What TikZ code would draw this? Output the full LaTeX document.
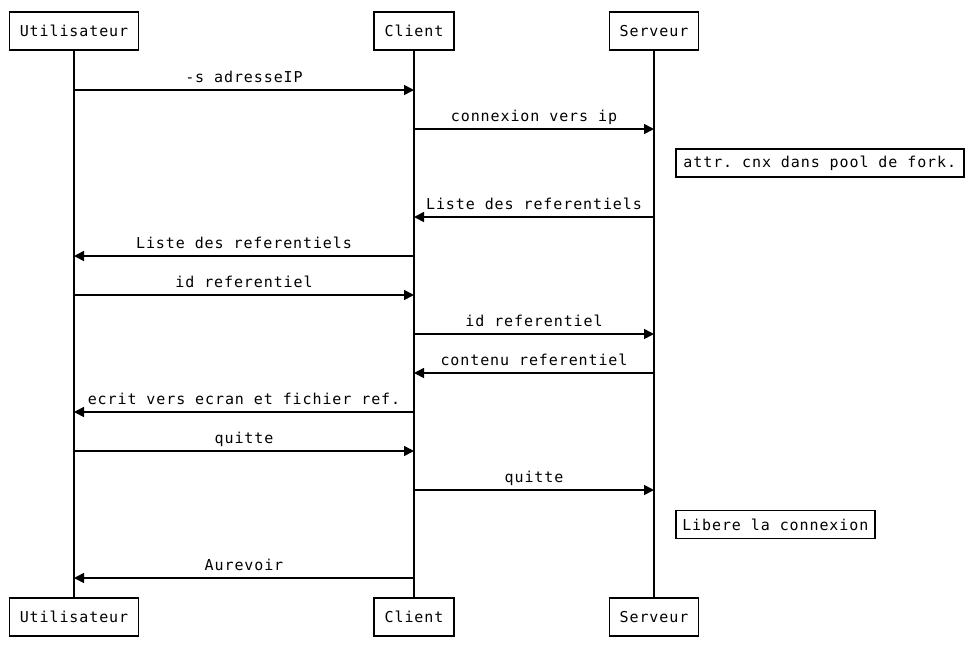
\documentclass[tikz,border=0pt]{standalone}
\usepackage{fontspec}
\newfontfamily\dmono[LetterSpace=6]{DejaVu Sans Mono}
\frenchspacing
\usetikzlibrary{arrows.meta}
\tikzset{
  txt/.style={font=\dmono\fontsize{15}{18}\selectfont},
  actor/.style={draw, line width=1.6pt, fill=white, minimum height=38pt, inner sep=0pt, txt, text depth=0pt, yshift=0pt},
  notebox/.style={draw, line width=1.6pt, fill=white, inner sep=0pt, minimum height=28pt, anchor=west, txt},
  lifeline/.style={line width=1.6pt},
  msg/.style={line width=1.6pt, -{Triangle[length=10pt,width=10pt]}},
  lbl/.style={anchor=base, inner sep=0pt, txt}
}
\begin{document}
\begin{tikzpicture}[x=1pt,y=-1pt]
\useasboundingbox (0,0) rectangle (975,649);
% actors
\node[actor, minimum width=129pt] (ut) at (74,31) {Utilisateur};
\node[actor, minimum width=80pt] (ct) at (414,31) {Client};
\node[actor, minimum width=89pt] (st) at (654,31) {Serveur};
\node[actor, minimum width=129pt] (ub) at (74,617) {Utilisateur};
\node[actor, minimum width=80pt] (cb) at (414,617) {Client};
\node[actor, minimum width=89pt] (sb) at (654,617) {Serveur};
\draw[lifeline] (ut.south) -- (ub.north);
\draw[lifeline] (ct.south) -- (cb.north);
\draw[lifeline] (st.south) -- (sb.north);
% message coordinates
\foreach \n/\y in {1/90,2/129,3/217,4/256,5/295,6/334,7/373,8/412,9/451,10/490,11/578}{
  \coordinate (u\n) at (74,\y);
  \coordinate (c\n) at (414,\y);
  \coordinate (s\n) at (654,\y);
}
\draw[msg] (u1) -- (c1) node[lbl, midway, yshift=7.5pt] (l1) {-s adresseIP};
\draw[msg] (c2) -- (s2) node[lbl, midway, yshift=7.5pt] (l2) {connexion vers ip};
\node[notebox, minimum width=288pt] (n1) at (675,163) {attr. cnx dans pool de fork.};
\draw[msg] (s3) -- (c3) node[lbl, midway, yshift=7.5pt] (l3) {Liste des referentiels};
\draw[msg] (c4) -- (u4) node[lbl, midway, yshift=7.5pt] (l4) {Liste des referentiels};
\draw[msg] (u5) -- (c5) node[lbl, midway, yshift=7.5pt] (l5) {id referentiel};
\draw[msg] (c6) -- (s6) node[lbl, midway, yshift=7.5pt] (l6) {id referentiel};
\draw[msg] (s7) -- (c7) node[lbl, midway, yshift=7.5pt] (l7) {contenu referentiel};
\draw[msg] (c8) -- (u8) node[lbl, midway, yshift=7.5pt] (l8) {ecrit vers ecran et fichier ref.};
\draw[msg] (u9) -- (c9) node[lbl, midway, yshift=7.5pt] (l9) {quitte};
\draw[msg] (c10) -- (s10) node[lbl, midway, yshift=7.5pt] (l10) {quitte};
\node[notebox, minimum width=199pt] (n2) at (675,524.5) {Libere la connexion};
\draw[msg] (c11) -- (u11) node[lbl, midway, yshift=7.5pt] (l11) {Aurevoir};
\end{tikzpicture}
\end{document}
